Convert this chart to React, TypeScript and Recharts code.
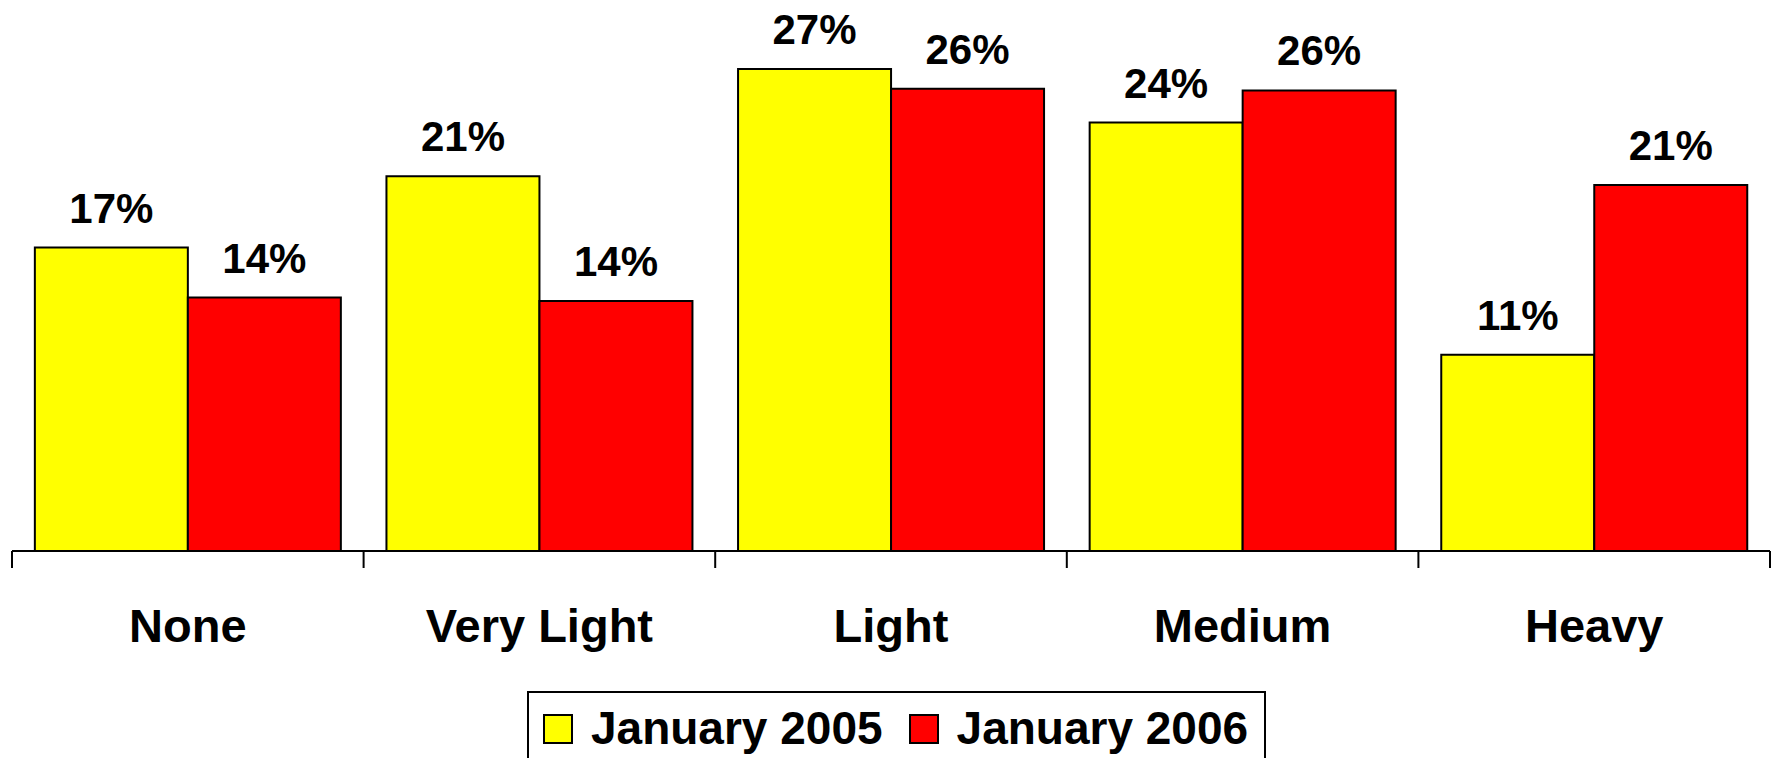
import { Bar, BarChart, LabelList, Legend, XAxis, YAxis } from "recharts";

const categories = ["None", "Very Light", "Light", "Medium", "Heavy"];
const jan2005 = [17.0, 21.0, 27.0, 24.0, 11.0];
const jan2006 = [14.2, 14.0, 25.9, 25.8, 20.5];

const SERIES = [
  { key: "jan2005", name: "January 2005", color: "#FFFF00" },
  { key: "jan2006", name: "January 2006", color: "#FF0000" },
];

const FONT = '"Liberation Sans", Arial, Helvetica, sans-serif';
const CHART_WIDTH = 1771;
const CHART_HEIGHT = 758;
const TICK_LENGTH = 17;

const data = categories.map((name, i) => ({
  name,
  jan2005: jan2005[i],
  jan2006: jan2006[i],
}));

const formatPercent = (value: number) => `${Math.round(value)}%`;

type TickProps = {
  x?: number;
  y?: number;
  index?: number;
  payload?: { value: string; offset?: number };
};

// Excel-style axis: tick marks sit between categories, labels centred below
function CategoryTick({ x = 0, y = 0, index = 0, payload }: TickProps) {
  const half = payload?.offset ?? (CHART_WIDTH - 13) / categories.length / 2;
  const top = y - TICK_LENGTH;
  return (
    <g>
      <line x1={x - half} x2={x - half} y1={top} y2={y} stroke="#000" strokeWidth={2} />
      {index === categories.length - 1 && (
        <line x1={x + half} x2={x + half} y1={top} y2={y} stroke="#000" strokeWidth={2} />
      )}
      <text
        x={x}
        y={y}
        dy={74}
        textAnchor="middle"
        fontFamily={FONT}
        fontWeight="bold"
        fontSize={47}
        fill="#000"
      >
        {payload?.value}
      </text>
    </g>
  );
}

type LegendEntry = { value?: string; color?: string };

function BoxLegend({ payload }: { payload?: LegendEntry[] }) {
  return (
    <div
      style={{
        boxSizing: "border-box",
        width: 739,
        height: 80,
        border: "2px solid #000",
        background: "#fff",
        display: "flex",
        alignItems: "flex-start",
        paddingLeft: 14,
        paddingTop: 12,
        fontFamily: FONT,
        fontWeight: "bold",
        fontSize: 46,
        lineHeight: "46px",
        color: "#000",
      }}
    >
      {(payload ?? []).map((entry, i) => (
        <div key={entry.value} style={{ display: "flex", alignItems: "flex-start", marginLeft: i === 0 ? 0 : 26 }}>
          <span
            style={{
              boxSizing: "border-box",
              width: 30,
              height: 30,
              marginTop: 9,
              marginRight: 18,
              background: entry.color,
              border: "2px solid #000",
            }}
          />
          <span style={{ whiteSpace: "nowrap" }}>{entry.value}</span>
        </div>
      ))}
    </div>
  );
}

export default function App() {
  return (
    <div
      style={{
        position: "fixed",
        left: 0,
        top: 0,
        width: CHART_WIDTH,
        height: CHART_HEIGHT,
        overflow: "hidden",
        background: "#fff",
      }}
    >
      <BarChart
        width={CHART_WIDTH}
        height={CHART_HEIGHT}
        data={data}
        margin={{ top: 15.5, right: 1, left: 12, bottom: 27 }}
        barCategoryGap="6.5%"
        barGap={0}
      >
        <XAxis
          dataKey="name"
          height={100}
          axisLine={{ stroke: "#000", strokeWidth: 2 }}
          tickLine={false}
          tickSize={TICK_LENGTH}
          tickMargin={0}
          interval={0}
          tick={<CategoryTick />}
        />
        <YAxis hide domain={[0, 30]} />
        <Legend
          verticalAlign="bottom"
          content={<BoxLegend />}
          wrapperStyle={{ top: 691, left: 527, bottom: "auto", width: 739, height: 80 }}
        />
        {SERIES.map((s) => (
          <Bar
            key={s.key}
            dataKey={s.key}
            name={s.name}
            fill={s.color}
            stroke="#000"
            strokeWidth={2}
            isAnimationActive={false}
          >
            <LabelList
              dataKey={s.key}
              position="top"
              offset={25}
              formatter={(v: number) => formatPercent(v)}
              fill="#000"
              fontFamily={FONT}
              fontWeight="bold"
              fontSize={42}
            />
          </Bar>
        ))}
      </BarChart>
    </div>
  );
}
